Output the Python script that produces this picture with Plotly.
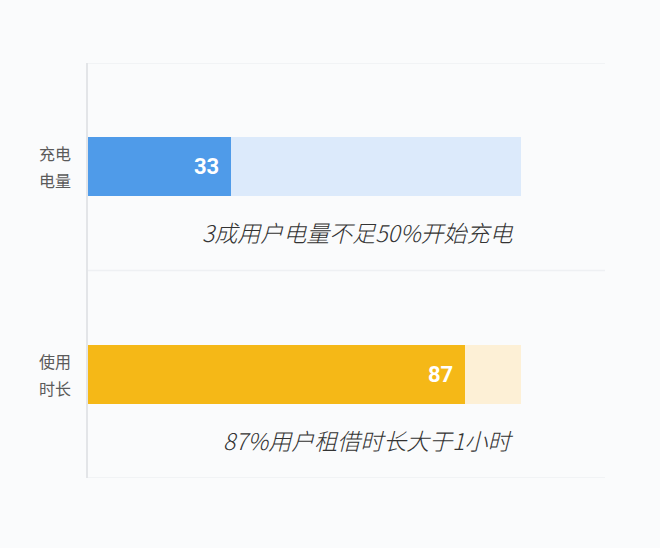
import plotly.graph_objects as go

# data
labels = [["充电", "电量"], ["使用", "时长"]]
values = [33, 87]
totals = [100, 100]
notes = ["3成用户电量不足50%开始充电", "87%用户租借时长大于1小时"]
bar_colors = ["#4f9be9", "#f5b817"]
track_colors = ["#dceafb", "#fdf0d6"]

ypos = [1.5, 0.5]
note_y = [1.186, 0.183]
cjk = "Noto Sans CJK SC, Noto Sans, sans-serif"

fig = go.Figure()

# light background tracks
fig.add_trace(go.Bar(
    x=totals, y=ypos, orientation="h", width=0.284,
    marker=dict(color=track_colors, line=dict(width=0)),
    hoverinfo="skip", showlegend=False,
))

# value bars
fig.add_trace(go.Bar(
    x=values, y=ypos, orientation="h", width=0.284,
    marker=dict(color=bar_colors, line=dict(width=0)),
    showlegend=False,
))

# value labels, a little inset from the bar end
for v, yy in zip(values, ypos):
    fig.add_annotation(x=v, y=yy, text=str(v), showarrow=False, xanchor="right",
                       xshift=-10,
                       font=dict(color="white", size=22, family="Roboto, Arial, sans-serif",
                                 weight="bold"))

# category labels, two lines each with wider spacing than <br> gives
for lines, yy in zip(labels, ypos):
    for line, shift in zip(lines, [13.5, -13.5]):
        fig.add_annotation(xref="paper", x=0, y=yy, text=line, showarrow=False,
                           xanchor="right", xshift=-15, yshift=shift,
                           font=dict(family=cjk, size=16, color="#5a5a5a"))

# faint category separators
for yy in [0, 1, 2]:
    fig.add_shape(type="line", xref="paper", x0=0, x1=1, y0=yy, y1=yy,
                  line=dict(color="#eef0f3", width=1.5), layer="below")

for txt, yy in zip(notes, note_y):
    fig.add_annotation(x=98.8, y=yy, text=txt, showarrow=False, xanchor="right",
                       font=dict(family=cjk, size=23, color="#333333", style="italic",
                                 weight=300))

fig.update_layout(
    width=660, height=548,
    margin=dict(l=88, r=55, t=63, b=70),
    paper_bgcolor="#fafbfc", plot_bgcolor="#fafbfc",
    barmode="overlay", bargap=0,
)
fig.update_xaxes(range=[0, 119.4], visible=False, fixedrange=True)
fig.update_yaxes(
    range=[0, 2], showticklabels=False,
    showgrid=False, zeroline=False, showline=True, linecolor="#e3e5e8", linewidth=2,
    ticks="", fixedrange=True,
)

fig.write_html("out.html", config={"displayModeBar": False},
               post_script="document.body.style.margin='0';"
                           "document.body.style.background='#fafbfc';")
